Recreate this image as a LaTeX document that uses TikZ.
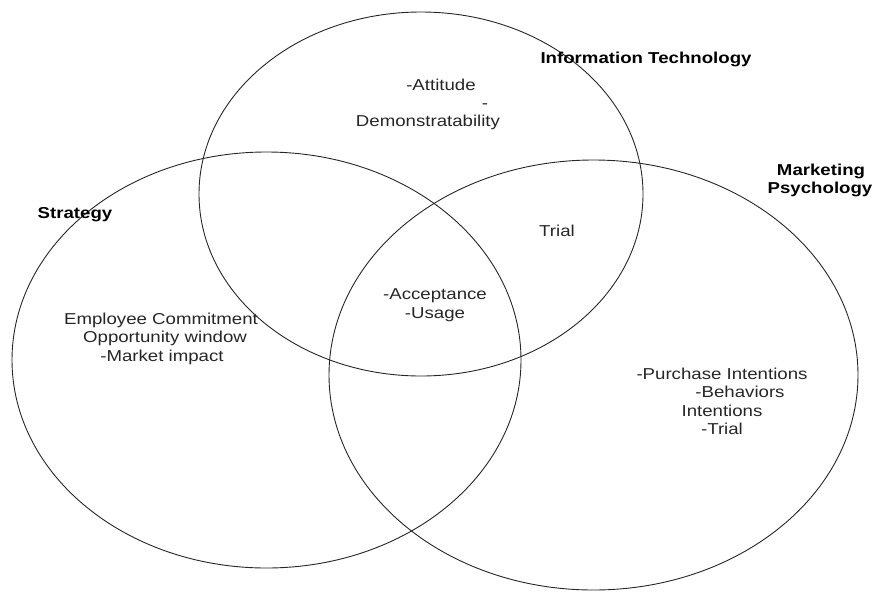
\documentclass[tikz,border=0pt]{standalone}
\usepackage{fontspec}
\setmainfont{Liberation Sans}[FakeStretch=1.18]
\begin{document}
\begin{tikzpicture}[x=1pt,y=-1pt,
  ring/.style={draw=black!85, line width=0.9pt},
  lbl/.style={font=\fontsize{15.8}{18.5}\selectfont, text=black!85, anchor=base, inner sep=0pt},
  head/.style={lbl, font=\fontsize{15.8}{18.5}\selectfont\bfseries, text=black}]
\useasboundingbox (0,0) rectangle (875,592);
% circles
\draw[ring] (421,194) ellipse [x radius=222pt, y radius=182pt];
\draw[ring] (266.5,360) ellipse [x radius=254.5pt, y radius=208pt];
\draw[ring] (593.5,375) ellipse [x radius=264.5pt, y radius=215pt];
% headings
\node[head] (it) at (646,63.5) {Information Technology};
\node[head] (mk1) at (821,175.5) {Marketing};
\node[head] (mk2) at (820,193.5) {Psychology};
\node[head] (st) at (75,218.5) {Strategy};
% IT only
\node[lbl] (att) at (441,90.5) {-Attitude};
\node[lbl] (dash) at (485,108.5) {-};
\node[lbl] (dem) at (428,126.5) {Demonstratability};
% IT & Marketing
\node[lbl] (trial) at (557,236.5) {Trial};
% centre
\node[lbl] (acc) at (435,299.5) {-Acceptance};
\node[lbl] (use) at (435,318.5) {-Usage};
% Strategy only
\node[lbl] (emp) at (161,324.5) {Employee Commitment};
\node[lbl] (opp) at (165,342.5) {Opportunity window};
\node[lbl] (mkt) at (162,361.5) {-Market impact};
% Marketing only
\node[lbl] (pur) at (722,379.5) {-Purchase Intentions};
\node[lbl] (beh) at (740,397.5) {-Behaviors};
\node[lbl] (int) at (722,416.5) {Intentions};
\node[lbl] (tri) at (722,434.5) {-Trial};
\end{tikzpicture}
\end{document}
